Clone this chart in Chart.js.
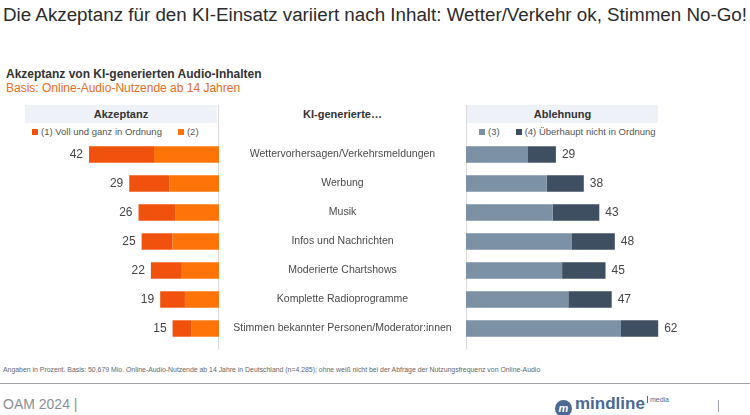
<!DOCTYPE html>
<html>
<head>
<meta charset="utf-8">
<script src="https://cdn.jsdelivr.net/npm/chart.js@4/dist/chart.umd.min.js"></script>
<style>
body { margin: 0; background: #fff; font-family: "Liberation Sans", Arial, sans-serif; }
#page { position: relative; width: 750px; height: 415px; overflow: hidden; }
.abs { position: absolute; white-space: nowrap; }
#title { left: 3px; top: 4px; font-size: 18.8px; color: #2b2b2b; }
#sub1 { left: 6px; top: 67px; font-size: 12px; font-weight: bold; color: #333; }
#sub2 { left: 6px; top: 81px; font-size: 12px; color: #e86c24; }
.head { top: 105px; height: 18px; background: #eef2f8; font-size: 11px; font-weight: bold; color: #333; text-align: center; line-height: 18px; }
#midhead { left: 219px; width: 247px; top: 105px; font-size: 11px; font-weight: bold; color: #333; text-align: center; line-height: 18px; }
.legend { top: 126px; font-size: 9.5px; color: #555; line-height: 12px; }
.legend span.box { display: inline-block; width: 6px; height: 6px; margin-right: 3px; vertical-align: 0px; }
.legend span.item { margin-right: 16px; }
.vline { width: 1px; background: #dcdcdc; top: 105px; height: 245px; }
#note { left: 3px; top: 366px; font-size: 6.9px; color: #666; }
#hline { left: 0; top: 383px; width: 750px; height: 1px; background: #a0a4a8; }
#oam { left: 3px; top: 396px; font-size: 14px; color: #8a9098; }
#logo { left: 555px; top: 394px; font-size: 17px; font-weight: bold; color: #4b6893; }
#logo .dot { display: inline-block; width: 17px; height: 17px; border-radius: 50%; background: #4b6893; vertical-align: -3px; margin-right: 3px; color: #fff; font-size: 11px; text-align: center; line-height: 17px; font-style: italic; }
#logo .media { font-size: 7px; font-weight: normal; vertical-align: 7px; border-left: 1px solid #4b6893; padding-left: 2px; margin-left: 2px; }
#endbar { left: 718px; top: 400px; width: 1px; height: 12px; background: #9aa0a8; }
canvas { position: absolute; }
</style>
</head>
<body>
<div id="page">
  <div class="abs" id="title">Die Akzeptanz für den KI-Einsatz variiert nach Inhalt: Wetter/Verkehr ok, Stimmen No-Go!</div>
  <div class="abs" id="sub1">Akzeptanz von KI-generierten Audio-Inhalten</div>
  <div class="abs" id="sub2">Basis: Online-Audio-Nutzende ab 14 Jahren</div>

  <div class="abs head" style="left:25px; width:192px;">Akzeptanz</div>
  <div class="abs" id="midhead">KI-generierte…</div>
  <div class="abs head" style="left:467px; width:191px;">Ablehnung</div>
  <div class="abs legend" id="legLeft" style="left:32px;"></div>
  <div class="abs legend" id="legRight" style="left:479px;"></div>
  <div class="abs vline" style="left:218px;"></div>
  <div class="abs vline" style="left:466px;"></div>

  <canvas id="leftChart" width="195" height="203" style="left:24px; top:140px;"></canvas>
  <canvas id="rightChart" width="526" height="203" style="left:219px; top:140px;"></canvas>

  <div class="abs" id="note">Angaben in Prozent. Basis: 50,679 Mio. Online-Audio-Nutzende ab 14 Jahre in Deutschland (n=4.285); ohne weiß nicht bei der Abfrage der Nutzungsfrequenz von Online-Audio</div>
  <div class="abs" id="hline"></div>
  <div class="abs" id="oam">OAM 2024 |</div>
  <div class="abs" id="logo"><span class="dot">m</span>mindline<span class="media">media</span></div>
  <div class="abs" id="endbar"></div>
</div>

<script>
var categories = ["Wettervorhersagen/Verkehrsmeldungen", "Werbung", "Musik", "Infos und Nachrichten", "Moderierte Chartshows", "Komplette Radioprogramme", "Stimmen bekannter Personen/Moderator:innen"];
var seriesNames = ["(1) Voll und ganz in Ordnung", "(2)", "(3)", "(4) Überhaupt nicht in Ordnung"];
var seriesColors = ["#f0520d", "#fe7408", "#7d91a6", "#3f4f62"];
var voll = [21, 13, 12, 10, 10, 8, 6];
var eher = [21, 16, 14, 15, 12, 11, 9];
var eherNicht = [20, 26, 28, 34, 31, 33, 50];
var garNicht = [9, 12, 15, 14, 14, 14, 12];

function build_legend(id, idx) {
    var html = "";
    for (var i = 0; i < idx.length; i++) {
        var k = idx[i];
        html += '<span class="item"><span class="box" style="background:' + seriesColors[k] + '"></span>' + seriesNames[k] + '</span>';
    }
    document.getElementById(id).innerHTML = html;
}
build_legend("legLeft", [0, 1]);
build_legend("legRight", [2, 3]);

// sum of all stacks, written beside the outer end of the bar
var totalsPlugin = {
    id: "totals",
    afterDatasetsDraw: function(chart) {
        var ctx = chart.ctx;
        var n = chart.data.datasets.length;
        var lastMeta = chart.getDatasetMeta(n - 1);
        var reversed = chart.options.scales.x.reverse;
        ctx.save();
        ctx.font = "12px 'Liberation Sans', Arial, sans-serif";
        ctx.fillStyle = "#444";
        ctx.textBaseline = "middle";
        ctx.textAlign = reversed ? "right" : "left";
        for (var i = 0; i < chart.data.labels.length; i++) {
            var total = 0;
            chart.data.datasets.forEach(function(ds) { total += ds.data[i]; });
            var bar = lastMeta.data[i];
            ctx.fillText(total, reversed ? bar.x - 6 : bar.x + 6, bar.y);
        }
        ctx.restore();
    }
};

// category names centred in the gap left of the chart area
var categoryPlugin = {
    id: "catlabels",
    afterDraw: function(chart) {
        var ctx = chart.ctx;
        var y = chart.scales.y;
        ctx.save();
        ctx.font = "10.5px 'Liberation Sans', Arial, sans-serif";
        ctx.fillStyle = "#4a4a4a";
        ctx.textAlign = "center";
        ctx.textBaseline = "middle";
        for (var i = 0; i < chart.data.labels.length; i++) {
            ctx.fillText(chart.data.labels[i], chart.chartArea.left / 2, y.getPixelForTick(i));
        }
        ctx.restore();
    }
};

function bar_config(datasets, reverse, max, padLeft) {
    return {
        type: "bar",
        data: { labels: categories, datasets: datasets },
        options: {
            indexAxis: "y",
            responsive: false,
            animation: false,
            layout: { padding: { left: padLeft, right: 0, top: 0, bottom: 0 } },
            plugins: { legend: { display: false }, tooltip: { enabled: false } },
            scales: {
                x: { stacked: true, reverse: reverse, min: 0, max: max, display: false },
                y: { stacked: true, display: false }
            }
        }
    };
}

function ds(label, values, color) {
    return { label: label, data: values, backgroundColor: color, barPercentage: 0.9, categoryPercentage: 0.63, borderWidth: 0 };
}

var leftCfg = bar_config([ds(seriesNames[1], eher, seriesColors[1]), ds(seriesNames[0], voll, seriesColors[0])], true, 63, 0);
leftCfg.plugins = [totalsPlugin];
new Chart(document.getElementById("leftChart").getContext("2d"), leftCfg);

var rightCfg = bar_config([ds(seriesNames[2], eherNicht, seriesColors[2]), ds(seriesNames[3], garNicht, seriesColors[3])], false, 90, 247);
rightCfg.plugins = [totalsPlugin, categoryPlugin];
new Chart(document.getElementById("rightChart").getContext("2d"), rightCfg);
</script>
</body>
</html>
